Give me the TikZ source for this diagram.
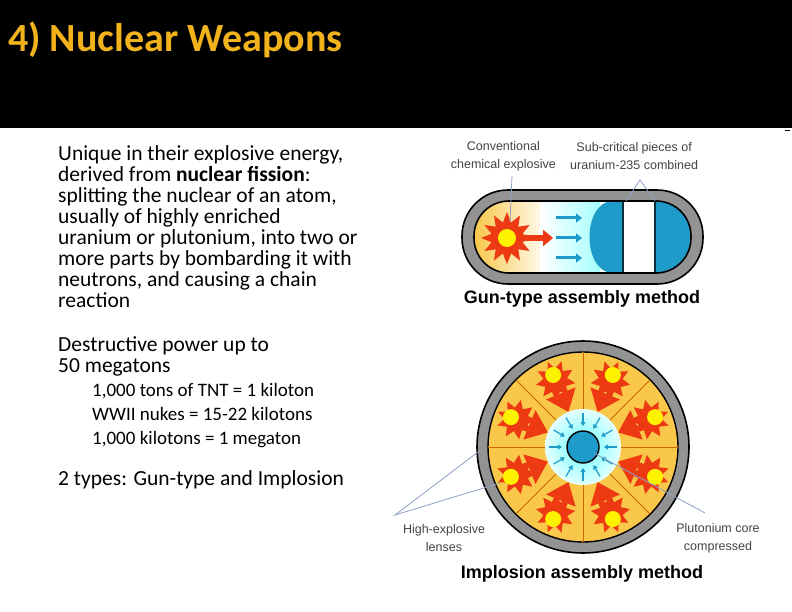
\documentclass[tikz,border=0pt]{standalone}
\usepackage{fontspec}
\setmainfont{Carlito}
\newfontfamily\arial{Liberation Sans}
\usetikzlibrary{arrows.meta,shapes.geometric}
\definecolor{gold}{HTML}{F2B21B}
\definecolor{pu}{HTML}{1E9BC8}
\definecolor{lead}{HTML}{8FA0C8}
\definecolor{lab}{HTML}{444444}
\definecolor{boom}{HTML}{EE3A12}
\definecolor{hx}{HTML}{F9C84A}
\tikzset{
 body/.style={anchor=west,inner sep=0pt,text height=13pt,text depth=4pt,font=\fontsize{21.5}{24}\selectfont},
 sub/.style={anchor=west,inner sep=0pt,text height=12pt,text depth=4pt,font=\fontsize{19}{21}\selectfont},
 lbl/.style={inner sep=0pt,text=lab,font=\arial\fontsize{12.5}{18}\selectfont,align=center},
 captxt/.style={inner sep=0pt,font=\arial\bfseries\fontsize{18}{20}\selectfont},
 leader/.style={draw=lead,line width=0.8pt},
}
\begin{document}
\begin{tikzpicture}[x=1pt,y=-1pt]
\useasboundingbox (0,0) rectangle (792,612);
\fill[white] (0,0) rectangle (792,612);
\fill[black] (0,0) rectangle (792,128);
\node[anchor=west,inner sep=0pt,text=gold,font=\bfseries\fontsize{40}{44}\selectfont] (title) at (8,40) {4) Nuclear Weapons};
\draw[line width=1pt] (785,131) -- (790,131);
% body
\node[body] (l1) at (58,156) {Unique in their explosive energy,};
\node[body] (l2) at (58,177) {derived from \textbf{nuclear fission}:};
\node[body] (l3) at (58,198) {splitting the nuclear of an atom,};
\node[body] (l4) at (58,219) {usually of highly enriched};
\node[body] (l5) at (58,240) {uranium or plutonium, into two or};
\node[body] (l6) at (58,261) {more parts by bombarding it with};
\node[body] (l7) at (58,282) {neutrons, and causing a chain};
\node[body] (l8) at (58,303) {reaction};
\node[body] (d1) at (58,347) {Destructive power up to};
\node[body] (d2) at (58,368) {50 megatons};
\node[sub] (s1) at (92,392) {1,000 tons of TNT = 1 kiloton};
\node[sub] (s2) at (92,416) {WWII nukes = 15-22 kilotons};
\node[sub] (s3) at (92,440) {1,000 kilotons = 1 megaton};
\node[body] (t1) at (58,481) {2 types: Gun-type and Implosion};
% gun-type
\node[lbl,anchor=east] (ce) at (556,156) {Conventional\\chemical explosive};
\node[lbl,anchor=west] (sc) at (570,156) {Sub-critical pieces of\\uranium-235 combined};
\draw[line width=1.6pt,fill=gray!85,rounded corners=46] (462,190) rectangle (703,284);
\begin{scope}
\clip[rounded corners=35] (474,201) rectangle (691,273);
\shade[left color=hx,right color=white] (474,201) rectangle (550,273);
\fill[white] (550,201) rectangle (691,273);
\shade[left color=white,right color=cyan!35] (540,201) rectangle (600,273);
\fill[pu] (623,201) -- (612,201) .. controls (582,203) and (582,271) .. (612,273) -- (623,273) -- cycle;
\fill[white] (623,201) rectangle (655,273);
\fill[pu] (655,201) rectangle (691,273);
\draw[line width=1.5pt,black!70!pu] (623,201) -- (623,273) (655,201) -- (655,273);
\end{scope}
\draw[line width=1.6pt,rounded corners=35] (474,201) rectangle (691,273);
\fill[boom] plot[samples=25,domain=0:360,variable=\a] ({507+(mod(round(\a/15),2)==0?26:16)*cos(\a)},{238+(mod(round(\a/15),2)==0?26:16)*sin(\a)}) -- cycle;
\fill[yellow] (507,238) circle (9);
\draw[boom,line width=6pt,-{Triangle[length=10pt,width=16pt]}] (525,238) -- (553,238);
\foreach \yy in {218,238,258} \draw[pu,line width=3pt,-{Triangle[length=6pt,width=9pt]}] (556,\yy) -- (582,\yy);
\coordinate (ceend) at (510,222);
\draw[leader] (512,176) -- (ceend);
\coordinate (sc1) at (626,201);
\coordinate (sc2) at (655,201);
\draw[leader] (sc1) -- (640,180) -- (sc2);
\node[captxt] (gun) at (582,299) {Gun-type assembly method};
% implosion
\coordinate (c) at (583,447);
\draw[line width=1.6pt,fill=gray!85] (c) circle (106);
\draw[line width=1.4pt,fill=hx] (c) circle (95);
\foreach \a in {0,45,...,315} \draw[orange!80!black,line width=1pt] (c) ++(\a:38) -- ++(\a:57);
\foreach \a in {22.5,67.5,...,337.5}{
 \begin{scope}[shift={(c)},rotate=\a]
 \fill[boom] plot[samples=19,domain=0:360,variable=\b] ({72+(mod(round(\b/20),2)==0?20:12)*cos(\b)},{(mod(round(\b/20),2)==0?20:12)*sin(\b)}) -- cycle;
 \fill[boom] (58,-16) -- (38,0) -- (58,16) -- cycle;
 \fill[yellow] (78,0) circle (8);
 \end{scope}}
\shade[inner color=cyan!60,outer color=cyan!10] (c) circle (38);
\foreach \a in {0,30,...,330} \draw[pu,line width=1.2pt,-{Triangle[length=4pt,width=5pt]}] (c) ++(\a:34) -- ++(\a:-13);
\draw[line width=1.4pt,fill=pu] (c) circle (16);
\node[lbl] (hel) at (444,538) {High-explosive\\lenses};
\node[lbl] (pcc) at (718,538) {Plutonium core\\compressed};
\coordinate (h1) at (478,452);
\coordinate (h2) at (500,483);
\draw[leader] (h1) -- (395,515) -- (h2);
\coordinate (p1) at (594,453);
\draw[leader] (p1) -- (705,513);
\node[captxt] (imp) at (582,574) {Implosion assembly method};
\end{tikzpicture}
\end{document}
